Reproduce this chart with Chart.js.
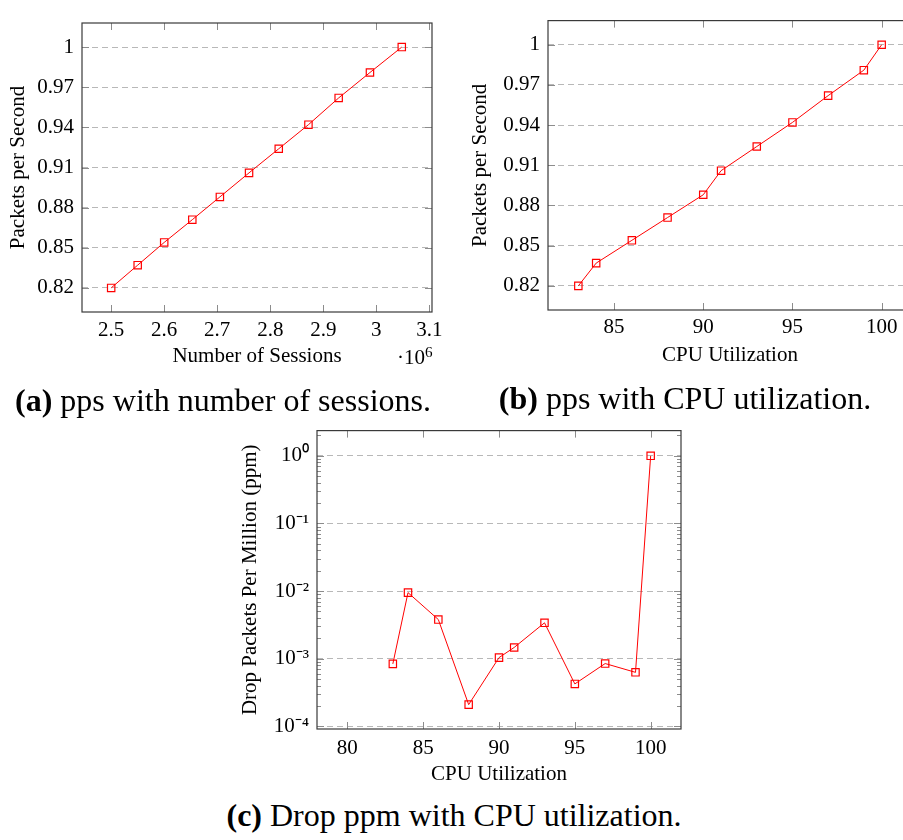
<!DOCTYPE html>
<html><head><meta charset="utf-8">
<script src="https://cdn.jsdelivr.net/npm/chart.js@4.4.1/dist/chart.umd.min.js"></script>
<style>
html,body{margin:0;padding:0;width:903px;height:840px;overflow:hidden;background:#fff;}
canvas{position:absolute;}
.cap{position:absolute;font-family:'Liberation Serif',serif;font-size:32px;white-space:nowrap;transform:translateX(-50%);line-height:1;color:#000;}
.mult{position:absolute;font-family:'Liberation Serif',serif;font-size:21px;line-height:1;white-space:nowrap;color:#000;}
.mult sup{position:relative;top:-0.45em;vertical-align:baseline;font-size:0.72em;}
</style></head><body>
<canvas id="ca" width="450" height="372" style="left:0;top:0"></canvas>
<canvas id="cb" width="470" height="372" style="left:460px;top:0"></canvas>
<canvas id="cc" width="480" height="385" style="left:220px;top:410px"></canvas>
<div class="mult" style="left:397px;top:347px">·10<sup>6</sup></div>
<div class="cap" style="left:223px;top:384px"><b>(a)</b> pps with number of sessions.</div>
<div class="cap" style="left:685px;top:382px"><b>(b)</b> pps with CPU utilization.</div>
<div class="cap" style="left:454px;top:799px"><b>(c)</b> Drop ppm with CPU utilization.</div>
<script>
// ---- data ----
const sessionsM = [2.5, 2.55, 2.6, 2.653, 2.705, 2.76, 2.816, 2.872, 2.929, 2.988, 3.048]; // x 10^6
const ppsA = [0.820, 0.837, 0.854, 0.871, 0.888, 0.906, 0.924, 0.942, 0.962, 0.981, 1.000];
const cpuB = [83, 84, 86, 88, 90, 91, 93, 95, 97, 99, 100];
const ppsB = [0.820, 0.837, 0.854, 0.871, 0.888, 0.906, 0.924, 0.942, 0.962, 0.981, 1.000];
const cpuC = [83, 84, 86, 88, 90, 91, 93, 95, 97, 99, 100];
const dropC = [8.4e-4, 9.5e-3, 3.8e-3, 2.1e-4, 1.04e-3, 1.47e-3, 3.4e-3, 4.25e-4, 8.5e-4, 6.3e-4, 1.0];

// ---- ticks ----
const xTicksA = [2.5, 2.6, 2.7, 2.8, 2.9, 3.0, 3.1];
const xTickLabelsA = ['2.5', '2.6', '2.7', '2.8', '2.9', '3', '3.1'];
const yTicksPPS = [0.82, 0.85, 0.88, 0.91, 0.94, 0.97, 1.0];
const yTickLabelsPPS = ['0.82', '0.85', '0.88', '0.91', '0.94', '0.97', '1'];
const xTicksB = [85, 90, 95, 100];
const xTickLabelsB = ['85', '90', '95', '100'];
const xTicksC = [80, 85, 90, 95, 100];
const xTickLabelsC = ['80', '85', '90', '95', '100'];
const yTicksC = [1e-4, 1e-3, 1e-2, 1e-1, 1];
const yTickLabelsC = ['10⁻⁴', '10⁻³', '10⁻²', '10⁻¹', '10⁰'];

Chart.defaults.font.family = "'Liberation Serif', serif";
Chart.defaults.font.size = 21;
Chart.defaults.color = '#000';

const frame = {
  id: 'frame',
  beforeDatasetsDraw(chart, args, opts) {
    const ctx = chart.ctx, a = chart.chartArea;
    const xs = chart.scales.x, ys = chart.scales.y;
    ctx.save();
    ctx.lineWidth = 1;
    ctx.strokeStyle = '#8c8c8c';
    ctx.beginPath();
    xs.ticks.forEach(t => {
      const p = Math.round(xs.getPixelForValue(t.value)) + 0.5;
      ctx.moveTo(p, a.bottom); ctx.lineTo(p, a.bottom - 7);
      ctx.moveTo(p, a.top); ctx.lineTo(p, a.top + 7);
    });
    ys.ticks.forEach(t => {
      const p = Math.round(ys.getPixelForValue(t.value)) + 0.5;
      ctx.moveTo(a.left, p); ctx.lineTo(a.left + 7, p);
      ctx.moveTo(a.right, p); ctx.lineTo(a.right - 7, p);
    });
    if (opts.minor) {
      opts.minor.forEach(v => {
        const p = Math.round(ys.getPixelForValue(v)) + 0.5;
        if (p < a.top || p > a.bottom) return;
        ctx.moveTo(a.left, p); ctx.lineTo(a.left + 4, p);
        ctx.moveTo(a.right, p); ctx.lineTo(a.right - 4, p);
      });
    }
    ctx.stroke();
    ctx.strokeStyle = '#3a3a3a';
    ctx.lineWidth = 1.2;
    ctx.strokeRect(a.left, a.top, a.right - a.left, a.bottom - a.top);
    ctx.restore();
  }
};

function ds(xs, ys) {
  return {
    data: xs.map((x, i) => ({x: x, y: ys[i]})),
    borderColor: '#ff0000', borderWidth: 1, tension: 0, fill: false,
    pointStyle: 'rect', pointRadius: 5.2, pointHoverRadius: 5.2,
    pointBorderColor: '#ff0000', pointBackgroundColor: 'rgba(255,0,0,0)', pointBorderWidth: 1.2
  };
}

function setTicks(vals) { return s => { s.ticks = vals.map(v => ({value: v})); }; }

function makeChart(id, d, o) {
  return new Chart(document.getElementById(id), {
    type: 'line',
    data: {datasets: [d]},
    options: {
      responsive: false, animation: false, devicePixelRatio: 1,
      layout: {padding: o.pad},
      plugins: {legend: {display: false}, tooltip: {enabled: false}, frame: {minor: o.minor}},
      scales: {
        x: {
          type: 'linear', min: o.xmin, max: o.xmax,
          afterBuildTicks: setTicks(o.xticks),
          afterFit: s => { s.height = o.xh; },
          grid: {display: false}, border: {display: false},
          ticks: {autoSkip: false, maxRotation: 0, padding: o.xpad, callback: (v, i) => o.xlabels[i]},
          title: {display: true, text: o.xtitle, padding: {top: 0, bottom: o.xtp}}
        },
        y: {
          type: o.ytype || 'linear', min: o.ymin, max: o.ymax,
          afterBuildTicks: setTicks(o.yticks),
          afterFit: s => { s.width = o.yw; },
          grid: {color: '#b8b8b8', drawTicks: false, lineWidth: 1},
          border: {display: false, dash: [6, 4]},
          ticks: {padding: 8, autoSkip: false, callback: (v, i) => o.ylabels[i]},
          title: {display: true, text: o.ytitle, padding: {top: o.ytp, bottom: 0}}
        }
      }
    },
    plugins: [frame]
  });
}

makeChart('ca', ds(sessionsM, ppsA), {
  pad: {left: 0, top: 23, right: 18, bottom: 0},
  xmin: 2.445, xmax: 3.105, xticks: xTicksA, xlabels: xTickLabelsA, xh: 60, xtp: 3.4, xpad: -2,
  xtitle: 'Number of Sessions',
  ymin: 0.802, ymax: 1.018, yticks: yTicksPPS, ylabels: yTickLabelsPPS, yw: 82, ytp: 5.7,
  ytitle: 'Packets per Second'
});

makeChart('cb', ds(cpuB, ppsB), {
  pad: {left: 0, top: 7, right: 18, bottom: 0},
  xmin: 81.3, xmax: 101.7, xticks: xTicksB, xlabels: xTickLabelsB, xh: 62, xtp: 4.4, xpad: -3,
  xtitle: 'CPU Utilization',
  ymin: 0.802, ymax: 1.018, yticks: yTicksPPS, ylabels: yTickLabelsPPS, yw: 88, ytp: 7.4,
  ytitle: 'Packets per Second'
});

const minorC = [];
for (let e = -5; e <= 0; e++) for (let m = 2; m <= 9; m++) minorC.push(m * Math.pow(10, e));

makeChart('cc', ds(cpuC, dropC), {
  pad: {left: 0, top: 17, right: 19, bottom: 0},
  xmin: 78, xmax: 102, xticks: xTicksC, xlabels: xTickLabelsC, xh: 66, xtp: 8.4, xpad: -1,
  xtitle: 'CPU Utilization',
  ytype: 'logarithmic', ymin: 9.16e-5, ymax: 2.36, yticks: yTicksC, ylabels: yTickLabelsC, yw: 97, ytp: 17.4,
  ytitle: 'Drop Packets Per Million (ppm)', minor: minorC
});
</script>
</body></html>
